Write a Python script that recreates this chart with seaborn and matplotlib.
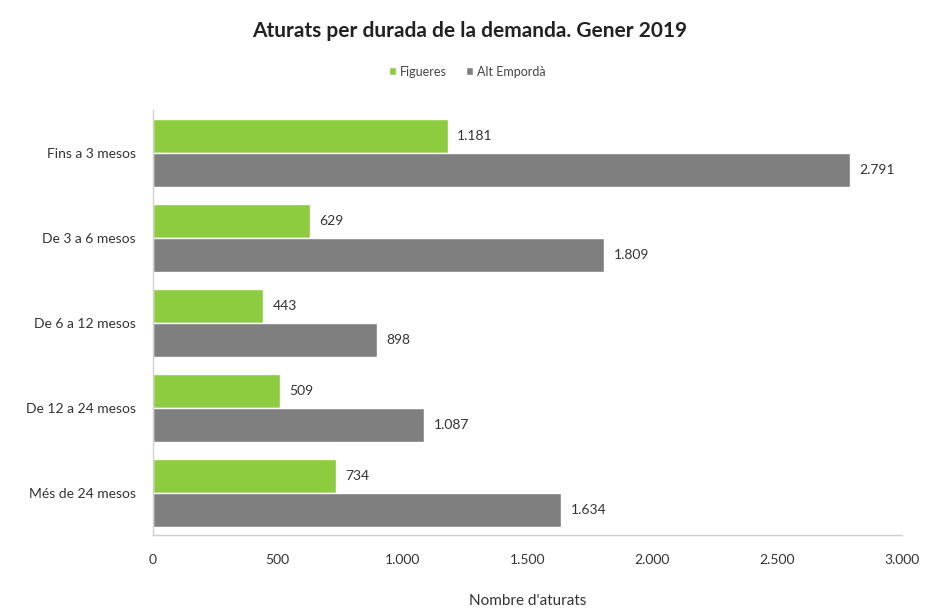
import pandas as pd
import seaborn as sns
import matplotlib.pyplot as plt
from matplotlib.ticker import FuncFormatter

# data
categories = ["Fins a 3 mesos", "De 3 a 6 mesos", "De 6 a 12 mesos",
              "De 12 a 24 mesos", "Més de 24 mesos"]
figueres = [1181, 629, 443, 509, 734]
alt_emporda = [2791, 1809, 898, 1087, 1634]
series_names = ["Figueres", "Alt Empordà"]
x_ticks = [0, 500, 1000, 1500, 2000, 2500, 3000]

df = pd.DataFrame({
    "durada": categories * 2,
    "zona": [series_names[0]] * len(categories) + [series_names[1]] * len(categories),
    "aturats": figueres + alt_emporda,
})

sns.set_theme(style="white")
plt.rcParams["font.family"] = ["Lato", "DejaVu Sans"]


def dotted(v, pos=None):
    return f"{int(v):,}".replace(",", ".")


fig = plt.figure(figsize=(9.25, 6.08), dpi=100)
ax = fig.add_axes([0.165, 0.12, 0.81, 0.699])

palette = {"Figueres": "#8DCC3F", "Alt Empordà": "#7F7F7F"}
sns.barplot(data=df, y="durada", x="aturats", hue="zona", order=categories,
            hue_order=series_names, palette=palette, orient="h",
            saturation=1, width=0.8, ax=ax)

for cont in ax.containers:
    ax.bar_label(cont, labels=[dotted(v) for v in cont.datavalues],
                 padding=7, fontsize=10, color="#333333")

ax.set_xlim(0, 3000)
ax.set_xticks(x_ticks)
ax.xaxis.set_major_formatter(FuncFormatter(dotted))
ax.tick_params(axis="both", length=0, labelsize=10, colors="#333333")
ax.tick_params(axis="x", pad=14)
ax.tick_params(axis="y", pad=12)
ax.set_ylabel("")
ax.set_xlabel("Nombre d'aturats", fontsize=11, color="#333333", labelpad=20)

for side in ["top", "right"]:
    ax.spines[side].set_visible(False)
for side in ["left", "bottom"]:
    ax.spines[side].set_color("#D0D0D0")
    ax.spines[side].set_linewidth(1)

ax.legend(loc="center", bbox_to_anchor=(0.42, 1.09), ncol=2, frameon=False,
          fontsize=9, handlelength=0.6, handleheight=0.6, handletextpad=0.3,
          columnspacing=1.5, labelcolor="#444444")

fig.suptitle("Aturats per durada de la demanda. Gener 2019", x=0.508, y=0.965,
             fontsize=15, fontweight="bold", color="#222222")

fig.savefig("out.png", dpi=100)
